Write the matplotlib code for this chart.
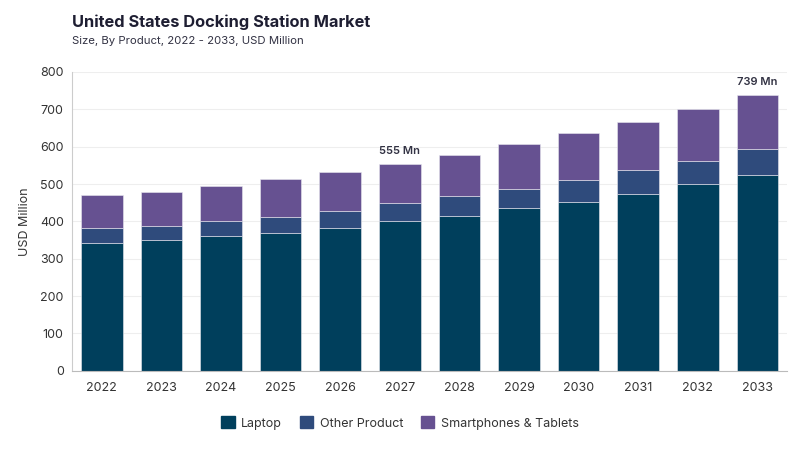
import matplotlib
matplotlib.use("Agg")
import matplotlib.pyplot as plt
import numpy as np

years = ["2022", "2023", "2024", "2025", "2026", "2027", "2028", "2029", "2030", "2031", "2032", "2033"]
laptop = [342, 350, 360, 370, 383, 400, 415, 435, 453, 474, 499, 523]
other = [39, 37, 40, 43, 46, 48, 52, 53, 58, 63, 64, 70]
smart = [90, 93, 96, 100, 104, 107, 112, 118, 125, 130, 138, 146]
annot = {"2027": "555 Mn", "2033": "739 Mn"}

colors = ["#003f5c", "#2f4b7c", "#665191"]
names = ["Laptop", "Other Product", "Smartphones & Tablets"]

plt.rcParams["font.family"] = ["Inter", "DejaVu Sans"]

fig = plt.figure(figsize=(8, 4.5), dpi=100)
ax = fig.add_axes([0.09, 0.176, 0.894, 0.664])

x = np.arange(len(years))
bottom = np.zeros(len(years))
for vals, c, n in zip([laptop, other, smart], colors, names):
    ax.bar(x, vals, 0.7, bottom=bottom, color=c, label=n,
           edgecolor="#e8e8ef", linewidth=0.4)
    bottom += np.array(vals)

for i, y in enumerate(years):
    if y in annot:
        ax.text(x[i], bottom[i] + 20, annot[y], ha="center", va="bottom",
                fontsize=8, fontweight="semibold", color="#333344")

ax.set_xlim(-0.5, len(years) - 0.5)
ax.set_ylim(0, 800)
ax.set_yticks(range(0, 801, 100))
ax.set_xticks(x)
ax.set_xticklabels(years)
ax.tick_params(axis="both", length=0, labelsize=9, colors="#333333")
ax.tick_params(axis="x", pad=8)
ax.tick_params(axis="y", pad=6)
ax.yaxis.grid(True, color="#eeeeee", linewidth=0.8)
ax.set_axisbelow(True)
for s in ["top", "right"]:
    ax.spines[s].set_visible(False)
ax.spines["left"].set_color("#cccccc")
ax.spines["bottom"].set_color("#bbbbbb")
ax.set_ylabel("USD Million", fontsize=9, color="#333333", labelpad=6)

fig.text(0.09, 0.951, "United States Docking Station Market", fontsize=11.8,
         fontweight="bold", color="#1e1e32", va="center")
fig.text(0.09, 0.908, "Size, By Product, 2022 - 2033, USD Million", fontsize=8.2,
         color="#333344", va="center")

handles = [plt.Rectangle((0, 0), 1, 1, color=c) for c in colors]
fig.legend(handles, names, loc="center", bbox_to_anchor=(0.5, 0.06), ncol=3,
           frameon=False, fontsize=9, handlelength=1.1, handleheight=1.1,
           handletextpad=0.5, columnspacing=1.4, labelcolor="#333333")

fig.savefig("out.png", dpi=100)
